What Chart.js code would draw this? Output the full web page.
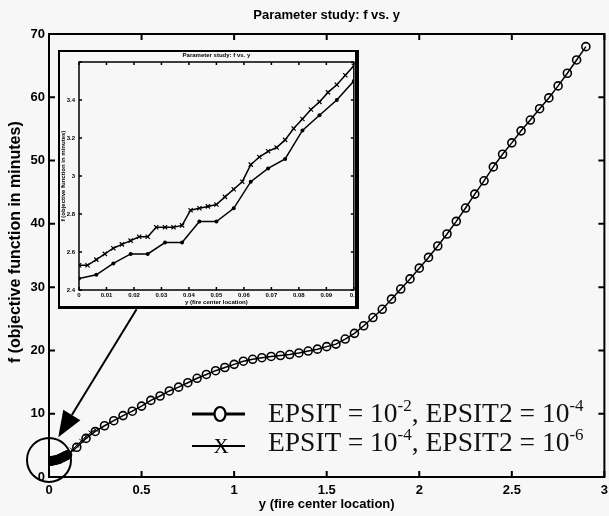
<!DOCTYPE html>
<html>
<head>
<meta charset="utf-8">
<script src="https://cdn.jsdelivr.net/npm/chart.js@4.4.1/dist/chart.umd.min.js"></script>
<style>
    html, body { margin: 0; padding: 0; background: #f7f7f7; overflow: hidden; }
    #wrap { position: relative; width: 609px; height: 516px; overflow: hidden; }
    #main { position: absolute; left: 0; top: 0; }
    #insetBox {
        position: absolute; left: 58px; top: 50px; width: 301px; height: 259px;
        box-sizing: border-box; border: 2px solid #000; border-right-width: 4px; border-bottom-width: 3px;
        background: #f7f7f7; overflow: hidden;
    }
    #inset { position: absolute; left: 0; top: 0; }
    #legend { position: absolute; left: 190px; top: 398px; font-family: "Liberation Serif", serif; font-size: 27.5px; color: #111; }
    #legend .row { height: 29px; line-height: 29px; white-space: nowrap; }
    #legend svg { vertical-align: top; }
    #legend sup { font-size: 0.62em; vertical-align: 0; position: relative; top: -0.62em; }
</style>
</head>
<body>
<div id="wrap">
    <canvas id="main" width="614" height="516"></canvas>
    <div id="insetBox"><canvas id="inset" width="300" height="254"></canvas></div>
    <div id="legend"></div>
</div>
<script>
// EPSIT = 1e-2 series (circles)
const oSeriesX = [0, 0.0063, 0.0125, 0.0188, 0.025, 0.0313, 0.0375, 0.0438, 0.05, 0.0563, 0.0625, 0.0688, 0.075, 0.0813, 0.0875, 0.0938, 0.1,
    0.15, 0.2, 0.25,
    0.3, 0.35, 0.4, 0.45, 0.5, 0.55, 0.6, 0.65, 0.7, 0.75, 0.8, 0.85, 0.9, 0.95, 1,
    1.05, 1.1, 1.15, 1.2, 1.25, 1.3, 1.35, 1.4, 1.45, 1.5, 1.55, 1.6, 1.65, 1.7, 1.75, 1.8, 1.85, 1.9, 1.95, 2,
    2.05, 2.1, 2.15, 2.2, 2.25, 2.3, 2.35, 2.4, 2.45, 2.5, 2.55, 2.6, 2.65, 2.7, 2.75, 2.8, 2.85, 2.9];
const oSeriesY = [2.46, 2.48, 2.54, 2.59, 2.59, 2.65, 2.65, 2.76, 2.76, 2.83, 2.97, 3.04, 3.09, 3.24, 3.32, 3.40, 3.50,
    4.7, 6.1, 7.2,
    8.1, 8.9, 9.7, 10.4, 11.2, 12.1, 12.8, 13.6, 14.2, 14.9, 15.6, 16.2, 16.8, 17.3, 17.8,
    18.3, 18.6, 18.85, 19.05, 19.2, 19.35, 19.6, 19.9, 20.2, 20.6, 21.0, 21.8, 22.7, 23.9, 25.2, 26.5, 28.1, 29.7, 31.3, 33.0,
    34.7, 36.5, 38.4, 40.4, 42.5, 44.7, 46.8, 49.0, 51.0, 52.8, 54.7, 56.4, 58.2, 59.9, 61.8, 63.8, 65.9, 68.0];

// EPSIT = 1e-4 series (crosses)
const xSeriesX = [0, 0.0031, 0.0063, 0.0094, 0.0125, 0.0156, 0.0188, 0.0219, 0.025, 0.0281, 0.0313, 0.0344, 0.0375, 0.0406, 0.0438, 0.0469,
    0.05, 0.0531, 0.0563, 0.0594, 0.0625, 0.0656, 0.0688, 0.0719, 0.075, 0.0781, 0.0813, 0.0844, 0.0875, 0.0906, 0.0938, 0.0969, 0.1,
    0.125, 0.15, 0.175, 0.2, 0.225, 0.25];
const xSeriesY = [2.53, 2.53, 2.56, 2.59, 2.62, 2.64, 2.66, 2.68, 2.68, 2.73, 2.73, 2.73, 2.74, 2.82, 2.83, 2.84,
    2.85, 2.89, 2.93, 2.97, 3.06, 3.10, 3.13, 3.15, 3.19, 3.25, 3.30, 3.35, 3.39, 3.44, 3.48, 3.53, 3.58,
    4.3, 5.0, 5.7, 6.4, 7.0, 7.5];

const seriesLabels = ['EPSIT = 10^-2, EPSIT2 = 10^-4', 'EPSIT = 10^-4, EPSIT2 = 10^-6'];

const mainXTicks = [0, 0.5, 1, 1.5, 2, 2.5, 3];
const mainYTicks = [0, 10, 20, 30, 40, 50, 60, 70];
const insetXTicks = [0, 0.01, 0.02, 0.03, 0.04, 0.05, 0.06, 0.07, 0.08, 0.09, 0.1];
const insetYTicks = [2.4, 2.6, 2.8, 3, 3.2, 3.4, 3.6];

const titleText = 'Parameter study: f vs. y';
const xTitle = 'y (fire center location)';
const yTitle = 'f (objective function in minutes)';

function toPoints(xs, ys) {
    return xs.map(function (x, i) { return {x: x, y: ys[i]}; });
}

function fmt(v) {
    return String(+v.toFixed(3));
}

// box round the plot with ticks pointing inwards, MATLAB style
const framePlugin = {
    id: 'frame',
    afterDatasetsDraw(chart, args, opts) {
        const {ctx, chartArea: a, scales} = chart;
        const L = opts.tick;
        ctx.save();
        ctx.strokeStyle = '#000';
        ctx.lineWidth = opts.width;
        ctx.strokeRect(a.left, a.top, a.right - a.left, a.bottom - a.top);
        ctx.beginPath();
        for (const t of scales.x.ticks) {
            const px = scales.x.getPixelForValue(t.value);
            ctx.moveTo(px, a.bottom); ctx.lineTo(px, a.bottom - L);
            ctx.moveTo(px, a.top); ctx.lineTo(px, a.top + L);
        }
        for (const t of scales.y.ticks) {
            const py = scales.y.getPixelForValue(t.value);
            ctx.moveTo(a.left, py); ctx.lineTo(a.left + L, py);
            ctx.moveTo(a.right, py); ctx.lineTo(a.right - L, py);
        }
        ctx.stroke();
        ctx.restore();
    }
};

// circle round the origin and the arrow up to the inset
const zoomNote = {
    id: 'zoomNote',
    afterDraw(chart) {
        const {ctx, scales: {x, y}} = chart;
        ctx.save();
        ctx.strokeStyle = '#000';
        ctx.fillStyle = '#000';
        ctx.lineWidth = 2;
        ctx.beginPath();
        ctx.arc(x.getPixelForValue(0), y.getPixelForValue(2.7), 22, 0, Math.PI * 2);
        ctx.stroke();

        const x0 = x.getPixelForValue(0.473), y0 = y.getPixelForValue(26.5);
        const x1 = x.getPixelForValue(0.05), y1 = y.getPixelForValue(6.3);
        const ang = Math.atan2(y1 - y0, x1 - x0);
        const hl = 26, hw = 10;
        const bx = x1 - hl * Math.cos(ang), by = y1 - hl * Math.sin(ang);
        ctx.beginPath();
        ctx.moveTo(x0, y0);
        ctx.lineTo(bx, by);
        ctx.stroke();
        ctx.beginPath();
        ctx.moveTo(x1, y1);
        ctx.lineTo(bx + hw * Math.sin(ang), by - hw * Math.cos(ang));
        ctx.lineTo(bx - hw * Math.sin(ang), by + hw * Math.cos(ang));
        ctx.closePath();
        ctx.fill();
        ctx.restore();
    }
};

const sans = '"Liberation Sans", Arial, sans-serif';

const mainChart = new Chart(document.getElementById('main'), {
    type: 'scatter',
    data: {
        datasets: [
            {
                label: seriesLabels[1],
                data: toPoints(xSeriesX, xSeriesY),
                showLine: true,
                borderColor: '#000',
                borderWidth: 1,
                pointStyle: 'crossRot',
                pointRadius: 3,
                pointBorderWidth: 1,
                pointBorderColor: '#000'
            },
            {
                label: seriesLabels[0],
                data: toPoints(oSeriesX, oSeriesY),
                showLine: true,
                borderColor: '#000',
                borderWidth: 1.5,
                pointStyle: 'circle',
                pointRadius: 4,
                pointBorderWidth: 1.6,
                pointBorderColor: '#000',
                pointBackgroundColor: 'rgba(0,0,0,0)'
            }
        ]
    },
    options: {
        responsive: false,
        animation: false,
        events: [],
        layout: {padding: {left: 0, top: 0, right: 7, bottom: 0}},
        plugins: {
            legend: {display: false},
            tooltip: {enabled: false},
            title: {
                display: true,
                fullSize: false,
                text: titleText,
                color: '#000',
                font: {family: sans, size: 13, weight: 'bold'},
                padding: {top: 8, bottom: 10.4}
            },
            frame: {tick: 6, width: 2}
        },
        scales: {
            x: {
                type: 'linear',
                min: 0, max: 3,
                afterBuildTicks: function (s) { s.ticks = mainXTicks.map(function (v) { return {value: v}; }); },
                afterFit: function (s) { s.height = 39; },
                grid: {display: false, drawTicks: false},
                border: {display: false},
                ticks: {color: '#000', padding: 6, maxRotation: 0, font: {family: sans, size: 13, weight: 'bold'}, callback: fmt},
                title: {display: true, text: xTitle, color: '#000', font: {family: sans, size: 13, weight: 'bold'}, padding: {top: 0, bottom: 4}}
            },
            y: {
                type: 'linear',
                min: 0, max: 70,
                afterBuildTicks: function (s) { s.ticks = mainYTicks.map(function (v) { return {value: v}; }); },
                afterFit: function (s) { s.width = 49; },
                grid: {display: false, drawTicks: false},
                border: {display: false},
                ticks: {color: '#000', padding: 4, font: {family: sans, size: 13, weight: 'bold'}, callback: fmt},
                // leading spaces nudge the centred title up the axis, as in the original
                title: {display: true, text: '      ' + yTitle, color: '#000', font: {family: sans, size: 16, weight: 'bold'}, padding: {top: 6, bottom: 0}}
            }
        }
    },
    plugins: [framePlugin, zoomNote]
});

const insetChart = new Chart(document.getElementById('inset'), {
    type: 'scatter',
    data: {
        datasets: [
            {
                label: seriesLabels[1],
                data: toPoints(xSeriesX, xSeriesY),
                showLine: true,
                borderColor: '#000',
                borderWidth: 1.5,
                pointStyle: 'crossRot',
                pointRadius: 3,
                pointBorderWidth: 1.2,
                pointBorderColor: '#000'
            },
            {
                label: seriesLabels[0],
                data: toPoints(oSeriesX, oSeriesY),
                showLine: true,
                borderColor: '#000',
                borderWidth: 1.5,
                pointStyle: 'circle',
                pointRadius: 2,
                pointBorderWidth: 0,
                pointBackgroundColor: '#000'
            }
        ]
    },
    options: {
        responsive: false,
        animation: false,
        events: [],
        layout: {padding: {left: 0, top: 0, right: 5, bottom: 0}},
        plugins: {
            legend: {display: false},
            tooltip: {enabled: false},
            title: {
                display: true,
                fullSize: false,
                text: titleText,
                color: '#000',
                font: {family: sans, size: 6, weight: 'bold'},
                padding: {top: 0, bottom: 2.8}
            },
            frame: {tick: 3, width: 1.5}
        },
        scales: {
            x: {
                type: 'linear',
                min: 0, max: 0.1,
                afterBuildTicks: function (s) { s.ticks = insetXTicks.map(function (v) { return {value: v}; }); },
                afterFit: function (s) { s.height = 16; },
                grid: {display: false, drawTicks: false},
                border: {display: false},
                ticks: {color: '#000', padding: 2, maxRotation: 0, autoSkip: false, font: {family: sans, size: 6, weight: 'bold'}, callback: fmt},
                title: {display: true, text: xTitle, color: '#000', font: {family: sans, size: 6, weight: 'bold'}, padding: {top: 0, bottom: 0}}
            },
            y: {
                type: 'linear',
                min: 2.4, max: 3.6,
                afterBuildTicks: function (s) { s.ticks = insetYTicks.map(function (v) { return {value: v}; }); },
                afterFit: function (s) { s.width = 19; },
                grid: {display: false, drawTicks: false},
                border: {display: false},
                ticks: {
                    color: '#000', padding: 4, autoSkip: false, font: {family: sans, size: 6, weight: 'bold'},
                    callback: function (v) { return v >= 3.6 ? '' : fmt(v); }
                },
                title: {display: true, text: yTitle, color: '#000', font: {family: sans, size: 6, weight: 'bold'}, padding: {top: 0, bottom: 0}}
            }
        }
    },
    plugins: [framePlugin]
});

// legend with superscripts, built from the series labels
function supText(s) {
    return s.replace(/\^(-?\d+)/g, '<sup>$1</sup>');
}

const legendEl = document.getElementById('legend');
const samples = [
    '<svg width="78" height="29"><line x1="2" y1="16" x2="55" y2="16" stroke="#000" stroke-width="3"/>' +
    '<ellipse cx="30" cy="16" rx="5.5" ry="7" fill="#f7f7f7" stroke="#000" stroke-width="2.2"/></svg>',
    '<svg width="78" height="29"><line x1="2" y1="19" x2="55" y2="19" stroke="#000" stroke-width="2"/>' +
    '<text x="31" y="26" text-anchor="middle" font-family="Liberation Serif" font-size="21" fill="#000">X</text></svg>'
];
seriesLabels.forEach(function (lab, i) {
    const row = document.createElement('div');
    row.className = 'row';
    row.innerHTML = samples[i] + '<span>' + supText(lab) + '</span>';
    legendEl.appendChild(row);
});
</script>
</body>
</html>
